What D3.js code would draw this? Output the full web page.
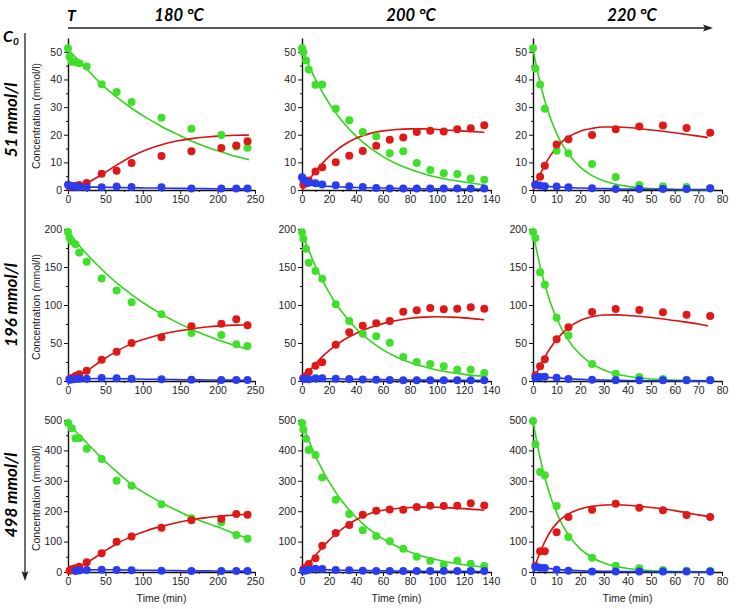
<!DOCTYPE html>
<html><head><meta charset="utf-8">
<script src="https://cdn.jsdelivr.net/npm/d3@7"></script>
<style>
body{margin:0;background:#fff;}
svg text{font-family:"Liberation Sans",Arial,sans-serif;}
.hdr{font-family:Lato,"Open Sans",sans-serif !important;font-weight:700;font-style:italic;}
</style></head><body>
<svg id="c" width="742" height="609"></svg>
<script>
// ---------- labels ----------
const temps = ["180 °C", "200 °C", "220 °C"];
const concs = ["51 mmol/l", "196 mmol/l", "498 mmol/l"];
const xMax = [250, 140, 80];
const xStep = [50, 20, 10];
const yMax = [55, 200, 500];
const yTop = [50, 200, 500];
const yStep = [10, 50, 100];

// ---------- measured points (time in min) ----------
const t180 = [0, 2, 5, 10, 15, 25, 45, 65, 85, 125, 165, 205, 225, 240];
const t200 = [0, 1, 3, 5, 10, 15, 25, 35, 45, 55, 65, 75, 85, 95, 105, 115, 125, 135];
const t220 = [0, 1, 3, 5, 10, 15, 25, 35, 45, 55, 65, 75];

// row 1 : 51 mmol/l
const g51_180 = [51.3, 48.3, 46.4, 46.3, 45.9, 44.7, 38.3, 35.5, 31.8, 26.1, 22.2, 19.9, 15.7, 15.3];
const r51_180 = [null, 1.2, 1.3, 1.5, 1.8, 2.5, 5.9, 7.0, 9.8, 12.3, 14.0, 15.2, 16.1, 17.6];
const b51_180 = [1.9, 1.6, 1.4, 1.2, 1.1, 1.0, 1.0, 1.3, 1.1, 1.0, 0.5, 0.5, 0.5, 0.5];
const g51_200 = [51.3, 49.8, 46.9, 43.6, 38.1, 38.2, 29.4, 25.2, 21.0, 19.4, 13.3, 14.0, 9.8, 7.2, 6.1, 5.8, 4.2, 3.7];
const r51_200 = [null, 1.9, 2.5, 3.4, 6.7, 8.2, 10.0, 12.4, 14.1, 16.0, 18.2, 19.0, 21.0, 21.4, 21.2, 22.0, 22.3, 23.4];
const b51_200 = [4.6, 3.8, 3.0, 2.6, 2.4, 2.0, 1.7, 1.4, 1.1, 0.7, 0.5, 0.5, 0.5, 0.5, 0.5, 0.5, 0.5, 0.5];
const g51_220 = [51.3, 44.0, 38.2, 29.4, 14.2, 13.3, 9.4, 4.7, 1.8, 1.4, 1.1, 0.5];
const r51_220 = [null, 2.0, 4.8, 8.8, 16.5, 18.4, 19.9, 22.0, 23.0, 23.3, 22.4, 20.7];
const b51_220 = [null, 1.9, 1.6, 1.4, 1.3, 1.0, 0.6, 0.4, 0.4, 0.4, 0.4, 0.6];
// row 2 : 196 mmol/l
const g196_180 = [196, 188.6, 184, 180, 169, 157, 135, 119, 103.5, 87.7, 63.2, 60.5, 48.2, 46];
const r196_180 = [null, 2.6, 4, 6.6, 8.8, 13.6, 28, 38.6, 50, 57.5, 72, 75.4, 81.1, 73.2];
const b196_180 = [null, 1.5, 2, 2.5, 2.8, 3, 4, 3.5, 3, 2.2, 1.8, 1.3, 1.3, 1.3];
const g196_200 = [195.6, 186.8, 174, 155.7, 144.7, 134.6, 101, 79, 62.3, 58.8, 50.4, 31.6, 25, 22.4, 19.3, 14.9, 14.9, 10.5];
const r196_200 = [null, 3.9, 6.6, 11.8, 20.2, 24.6, 47.8, 64, 72.8, 75.9, 79, 91.2, 93, 96, 94.3, 95.2, 97, 95.2];
const b196_200 = [null, 3, 2.5, 2.2, 3.5, 3.5, 3, 2.6, 2, 1.5, 1.2, 1, 1, 1, 1, 1, 1, 1];
const g196_220 = [196, 188, 143, 126.8, 83.3, 60, 22.4, 9.6, 5.3, 2.6, 1.8, 1.8];
const r196_220 = [null, 7.5, 19.3, 28.5, 54.8, 70.6, 90.8, 94.7, 93.4, 90.4, 87.3, 85.5];
const b196_220 = [null, 4.4, 5.3, 5.7, 4.4, 2.6, 1.5, 1, 1, 1, 1, 1];
// row 3 : 498 mmol/l
const g498_180 = [490, null, 472.6, 439.7, 439.7, 405.7, 371.7, 300.4, 284, 222.6, 176.5, 163.4, 121.7, 109.6];
const r498_180 = [null, 4.4, 8.8, 12, 17.5, 31.8, 61.4, 99.8, 117, 145.8, 170, 175.4, 190.8, 188.6];
const b498_180 = [null, null, null, 3, 5, 6.6, 7.7, 6.6, 5.5, 4.4, 3.3, 3.3, 3.3, 3.3];
const g498_200 = [490, 469, 438.6, 401, 385, 311, 238, 190.8, 137, 118.4, 100.9, 76.8, 50.4, 37.3, 24, 37.3, 27.4, 19.7];
const r498_200 = [null, 8.8, 15, 26.3, 45, 86.6, 128.3, 154.6, 188.6, 201.8, 206, 205, 213.8, 218.2, 217, 218, 226, 219];
const b498_200 = [null, 3, 5, 7, 11, 9.9, 6.6, 5.5, 4.4, 3.3, 3, 3, 3, 3, 3, 3, 3, 3];
const g498_220 = [497, 420, 329, 318, 217, 115, 47, 20.8, 12, 6.6, 4.4, 3.3];
const r498_220 = [null, 19.7, 68, 68, 130.5, 181, 205, 224.8, 211.6, 202.9, 187.5, 181];
const b498_220 = [null, 16.4, 14, 13, 7.7, 4.4, 2, 2, 2, 2, 2, 2];

// ---------- model curves ----------
const c180 = [0, 10, 25, 45, 65, 86, 105, 125, 145, 165, 185, 205, 225, 242];
const c200 = [0, 5, 10, 15, 20, 25, 30, 40, 50, 60, 70, 80, 90, 100, 110, 120, 135];
const c220 = [0, 2.5, 5, 7.5, 10, 12.5, 15, 20, 25, 30, 35, 40, 50, 60, 70, 74];

const mg51_180 = [51, 48, 43.8, 38.2, 33.6, 29.4, 26.1, 23.0, 20.3, 17.7, 15.6, 13.8, 12.1, 11.0];
const mr51_180 = [0, 0.6, 2.5, 5.5, 9, 12.3, 14.6, 16.4, 17.7, 18.6, 19.2, 19.6, 19.8, 19.9];
const mb51_180 = [1.3, 1.2, 1.1, 1.0, 0.9, 0.8, 0.75, 0.7, 0.6, 0.55, 0.5, 0.45, 0.4, 0.4];
const mg196_180 = [196, 184, 167, 147, 129, 113, 100, 88, 77.5, 68, 60, 52.5, 46, 41.5];
const mr196_180 = [0, 4, 13, 27, 39, 49.5, 56, 61.5, 65.5, 68.5, 71, 72.5, 73.5, 74];
const mb196_180 = [0.5, 2, 3, 3.2, 3, 2.7, 2.4, 2.1, 1.8, 1.6, 1.4, 1.2, 1.1, 1];
const mg498_180 = [490, 463, 425, 375, 330, 286, 256, 228, 203, 180, 161, 144, 124, 108];
const mr498_180 = [0, 8, 30, 62, 93, 118, 136, 150, 162, 172, 179, 184, 188, 190];
const mb498_180 = [0, 5, 7, 7.5, 7, 6.3, 5.6, 5, 4.5, 4, 3.6, 3.3, 3, 2.8];

const mg51_200 = [51, 45.2, 40.0, 35.5, 31.5, 27.9, 24.8, 19.5, 15.4, 12.1, 9.5, 7.5, 5.9, 4.6, 3.6, 2.9, 1.8];
const mr51_200 = [0, 3.5, 6.8, 9.6, 12.1, 14.2, 16.0, 18.7, 20.4, 21.4, 21.9, 22.1, 22.1, 21.9, 21.6, 21.3, 20.9];
const mb51_200 = [2, 1.8, 1.6, 1.4, 1.3, 1.2, 1.1, 0.9, 0.8, 0.7, 0.6, 0.5, 0.45, 0.4, 0.35, 0.3, 0.3];
const mg196_200 = [196, 172, 151, 133, 116.5, 102, 90, 69, 53.5, 41, 31.7, 24.5, 19, 14.5, 11.3, 8.7, 6.2];
const mr196_200 = [0, 12, 22.5, 32, 40, 47, 53, 62.5, 70, 75.5, 79.5, 82.5, 84, 84.5, 84, 83, 80.5];
const mb196_200 = [0, 2.5, 3, 3, 2.9, 2.8, 2.6, 2.3, 2, 1.8, 1.6, 1.4, 1.2, 1.1, 1, 0.9, 0.8];
const mg498_200 = [490, 433, 381, 337, 297, 262, 231, 180, 140, 109, 85, 66, 51, 40, 31, 24, 16.5];
const mr498_200 = [0, 28, 55, 80, 104, 125, 143, 172, 192, 203, 209, 212, 213.5, 213, 211, 208.5, 203];
const mb498_200 = [0, 5, 7.5, 7.5, 7, 6.5, 6, 5.2, 4.5, 4, 3.5, 3, 2.7, 2.4, 2.2, 2, 1.8];

const mg51_220 = [51, 40.6, 32.3, 25.7, 20.5, 16.3, 13.0, 8.3, 5.2, 3.3, 2.1, 1.3, 0.5, 0.2, 0.1, 0.1];
const mr51_220 = [0, 4.8, 9, 12.6, 15.5, 17.6, 19.2, 21.3, 22.3, 22.8, 22.8, 22.6, 21.7, 20.7, 19.5, 19.0];
const mb51_220 = [1.5, 1.4, 1.3, 1.2, 1.1, 1.0, 0.9, 0.7, 0.6, 0.5, 0.4, 0.35, 0.25, 0.2, 0.15, 0.15];
const mg196_220 = [196, 158, 127, 102, 82.5, 66.5, 53.5, 34.8, 22.5, 14.6, 9.5, 6.2, 2.6, 1.1, 0.5, 0.4];
const mr196_220 = [0, 17, 31.5, 44, 54.5, 63, 70, 79.5, 84.5, 86.8, 87, 86.2, 83.5, 79.5, 75, 72.5];
const mb196_220 = [0, 3.5, 4.5, 4.5, 4, 3.5, 3, 2.2, 1.6, 1.2, 0.9, 0.7, 0.4, 0.3, 0.2, 0.2];
const mg498_220 = [497, 393, 311, 246, 195, 154, 122, 76, 47.5, 29.6, 18.5, 11.5, 4.5, 1.8, 0.7, 0.5];
const mr498_220 = [0, 55, 100, 135, 160, 178, 191, 207, 216, 220.5, 221, 219.5, 212, 202, 188, 183];
const mb498_220 = [0, 12, 13, 11, 9, 7, 6, 4, 3, 2.3, 1.8, 1.4, 1, 0.7, 0.5, 0.5];

// ---------- assemble ----------
const pts = [
  [[t180, g51_180, r51_180, b51_180], [t200, g51_200, r51_200, b51_200], [t220, g51_220, r51_220, b51_220]],
  [[t180, g196_180, r196_180, b196_180], [t200, g196_200, r196_200, b196_200], [t220, g196_220, r196_220, b196_220]],
  [[t180, g498_180, r498_180, b498_180], [t200, g498_200, r498_200, b498_200], [t220, g498_220, r498_220, b498_220]]
];
const mods = [
  [[c180, mg51_180, mr51_180, mb51_180], [c200, mg51_200, mr51_200, mb51_200], [c220, mg51_220, mr51_220, mb51_220]],
  [[c180, mg196_180, mr196_180, mb196_180], [c200, mg196_200, mr196_200, mb196_200], [c220, mg196_220, mr196_220, mb196_220]],
  [[c180, mg498_180, mr498_180, mb498_180], [c200, mg498_200, mr498_200, mb498_200], [c220, mg498_220, mr498_220, mb498_220]]
];
const colors = ["#3fe02a", "#e01818", "#2a3cf0"];
const lineColors = ["#33d41c", "#d81010", "#2233e8"];

// ---------- layout ----------
const colX = [[68, 255], [302, 491], [533, 722]];
const rowY = [[190, 38], [381, 229], [572, 420]];

const svg = d3.select("#c");

// header
svg.append("text").attr("class", "hdr").attr("x", 67).attr("y", 21).attr("font-size", 16).text("T");
const hdrX = [179, 411, 632];
temps.forEach((t, i) => svg.append("text").attr("class", "hdr").attr("x", hdrX[i]).attr("y", 21)
  .attr("text-anchor", "middle").attr("font-size", 16.5).text(t));
svg.append("line").attr("x1", 68).attr("x2", 706).attr("y1", 28).attr("y2", 28).attr("stroke", "#222").attr("stroke-width", 1.3);
svg.append("path").attr("d", "M713,28 L703,24.5 L705,28 L703,31.5 Z").attr("fill", "#222");

const c0 = svg.append("text").attr("class", "hdr").attr("x", 3).attr("y", 42).attr("font-size", 16);
c0.append("tspan").text("C");
c0.append("tspan").attr("font-size", 10).attr("dy", 3).text("0");
svg.append("line").attr("x1", 25).attr("x2", 25).attr("y1", 33).attr("y2", 574).attr("stroke", "#222").attr("stroke-width", 1.3);
svg.append("path").attr("d", "M25,581 L21.5,571 L25,573 L28.5,571 Z").attr("fill", "#222");

const rowLabelY = [120, 305, 495];
concs.forEach((c, i) => svg.append("text").attr("class", "hdr")
  .attr("transform", `translate(17,${rowLabelY[i]}) rotate(-90)`)
  .attr("text-anchor", "middle").attr("font-size", 17).text(c));

// panels
for (let r = 0; r < 3; r++) {
  for (let c = 0; c < 3; c++) {
    const x = d3.scaleLinear().domain([0, xMax[c]]).range(colX[c]);
    const y = d3.scaleLinear().domain([0, yMax[r]]).range(rowY[r]);
    const g = svg.append("g");

    const xt = d3.range(0, xMax[c] + 0.001, xStep[c]);
    const xm = d3.range(xStep[c] / 2, xMax[c], xStep[c]);
    const yt = d3.range(0, yTop[r] + 0.001, yStep[r]);
    const ym = d3.range(yStep[r] / 2, yMax[r], yStep[r]);

    g.append("g").attr("transform", `translate(0,${rowY[r][0]})`)
      .call(d3.axisBottom(x).tickValues(xt).tickSize(4).tickSizeOuter(0).tickPadding(2));
    g.append("g").attr("transform", `translate(0,${rowY[r][0]})`)
      .call(d3.axisBottom(x).tickValues(xm).tickSize(2).tickFormat("")).select(".domain").remove();
    g.append("g").attr("transform", `translate(${colX[c][0]},0)`)
      .call(d3.axisLeft(y).tickValues(yt).tickSize(4).tickSizeOuter(0).tickPadding(2));
    g.append("g").attr("transform", `translate(${colX[c][0]},0)`)
      .call(d3.axisLeft(y).tickValues(ym).tickSize(2).tickFormat("")).select(".domain").remove();
    g.selectAll(".domain").attr("stroke", "#111").attr("stroke-width", 1.4);
    g.selectAll(".tick line").attr("stroke", "#111");
    g.selectAll(".tick text").attr("font-size", 10.5).attr("fill", "#222")
      .attr("font-family", "'Liberation Sans',Arial,sans-serif");

    // model lines
    const m = mods[r][c];
    for (let s = 0; s < 3; s++) {
      const line = d3.line().x((d, i) => x(m[0][i])).y(d => y(d)).curve(d3.curveMonotoneX);
      g.append("path").attr("d", line(m[s + 1])).attr("fill", "none")
        .attr("stroke", lineColors[s]).attr("stroke-width", 1.6);
    }
    // measured points
    const p = pts[r][c];
    for (let s = 0; s < 3; s++) {
      const data = p[0].map((t, i) => [t, p[s + 1][i]]).filter(d => d[1] != null);
      g.selectAll(null).data(data).enter().append("circle")
        .attr("cx", d => x(d[0])).attr("cy", d => y(d[1])).attr("r", 4)
        .attr("fill", colors[s]);
    }

    if (c === 0) {
      svg.append("text").attr("transform", `translate(40,${(rowY[r][0] + rowY[r][1]) / 2 + 2}) rotate(-90)`)
        .attr("text-anchor", "middle").attr("font-size", 10.5).attr("fill", "#222")
        .text("Concentration (mmol/l)");
    }
    if (r === 2) {
      svg.append("text").attr("x", (colX[c][0] + colX[c][1]) / 2).attr("y", 602)
        .attr("text-anchor", "middle").attr("font-size", 10.5).attr("fill", "#222").text("Time (min)");
    }
  }
}
</script></body></html>
